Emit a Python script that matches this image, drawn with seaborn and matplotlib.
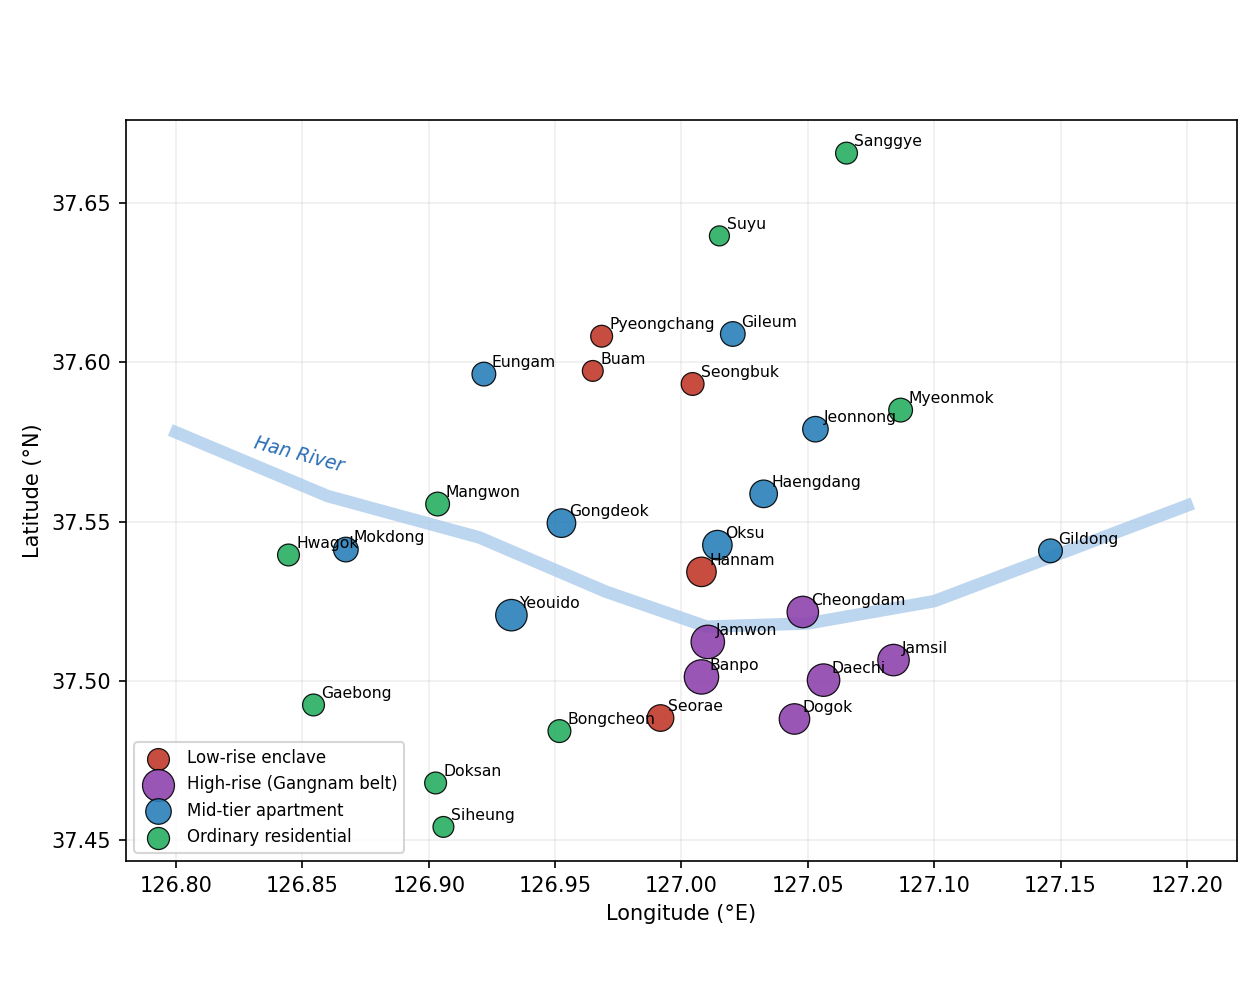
import matplotlib
matplotlib.use("Agg")
import matplotlib.pyplot as plt
import pandas as pd
import seaborn as sns

names = ["Sanggye", "Suyu", "Pyeongchang", "Gileum", "Eungam", "Buam", "Seongbuk", "Myeonmok",
         "Jeonnong", "Mangwon", "Haengdang", "Gongdeok", "Hwagok", "Mokdong", "Oksu", "Hannam",
         "Gildong", "Yeouido", "Cheongdam", "Jamwon", "Jamsil", "Banpo", "Daechi", "Dogok",
         "Seorae", "Gaebong", "Bongcheon", "Doksan", "Siheung"]
lon = [127.0653, 127.0150, 126.9684, 127.0203, 126.9218, 126.9649, 127.0044, 127.0867,
       127.0530, 126.9035, 127.0325, 126.9525, 126.8445, 126.8672, 127.0142, 127.0079,
       127.1460, 126.9327, 127.0480, 127.0104, 127.0839, 127.0079, 127.0562, 127.0447,
       126.9917, 126.8544, 126.9517, 126.9027, 126.9058]
lat = [37.6657, 37.6397, 37.6082, 37.6089, 37.5963, 37.5973, 37.5932, 37.5850,
       37.5790, 37.5555, 37.5587, 37.5495, 37.5395, 37.5412, 37.5426, 37.5342,
       37.5408, 37.5206, 37.5216, 37.5122, 37.5065, 37.5012, 37.5002, 37.4880,
       37.4883, 37.4924, 37.4842, 37.4679, 37.4541]
groups = ["Ordinary residential", "Ordinary residential", "Low-rise enclave", "Mid-tier apartment",
          "Mid-tier apartment", "Low-rise enclave", "Low-rise enclave", "Ordinary residential",
          "Mid-tier apartment", "Ordinary residential", "Mid-tier apartment", "Mid-tier apartment",
          "Ordinary residential", "Mid-tier apartment", "Mid-tier apartment", "Low-rise enclave",
          "Mid-tier apartment", "Mid-tier apartment", "High-rise (Gangnam belt)", "High-rise (Gangnam belt)",
          "High-rise (Gangnam belt)", "High-rise (Gangnam belt)", "High-rise (Gangnam belt)", "High-rise (Gangnam belt)",
          "Low-rise enclave", "Ordinary residential", "Ordinary residential", "Ordinary residential",
          "Ordinary residential"]
areas = [110, 92, 110, 140, 130, 100, 120, 130,
         150, 130, 175, 188, 110, 140, 200, 200,
         130, 228, 228, 258, 228, 272, 243, 214,
         163, 110, 120, 110, 100]

river_lon = [126.80, 126.86, 126.92, 126.97, 127.01, 127.05, 127.10, 127.15, 127.20]
river_lat = [37.578, 37.558, 37.545, 37.528, 37.517, 37.518, 37.525, 37.540, 37.555]

group_order = ["Low-rise enclave", "High-rise (Gangnam belt)", "Mid-tier apartment", "Ordinary residential"]
palette = {"Low-rise enclave": "#c0392b", "High-rise (Gangnam belt)": "#8e44ad",
           "Mid-tier apartment": "#2980b9", "Ordinary residential": "#27ae60"}
legend_areas = [110, 235, 150, 112]

df = pd.DataFrame({"name": names, "lon": lon, "lat": lat, "group": groups, "area": areas})

sns.set_theme(style="ticks", rc={"text.color": "black", "axes.labelcolor": "black",
                                 "xtick.color": "black", "ytick.color": "black"})
fig = plt.figure(figsize=(8.4, 6.6), dpi=150)
ax = fig.add_axes([126 / 1260, 1 - 861 / 990, 1111 / 1260, 741 / 990])

# River course sits under the neighbourhood markers
sns.lineplot(x=river_lon, y=river_lat, ax=ax, color="#a7c9ea", alpha=0.75, linewidth=6,
             sort=False, estimator=None, solid_capstyle="projecting", zorder=1)
ax.text(126.8488, 37.5709, "Han River", color="#2a6db5", fontsize=9, style="italic",
        rotation=-15, ha="center", va="center")

for group in group_order:
    sub = df[df["group"] == group]
    sns.scatterplot(data=sub, x="lon", y="lat", s=sub["area"].to_numpy(), color=palette[group],
                    edgecolor="black", linewidth=0.6, alpha=0.9, label=group, ax=ax, zorder=3)

for _, row in df.iterrows():
    ax.annotate(row["name"], (row["lon"], row["lat"]), xytext=(3.8, 3.4), textcoords="offset points",
                fontsize=7.5, color="black", zorder=4)

ax.set_xlim(126.7802, 127.2198)
ax.set_ylim(37.4434, 37.6761)
ax.set_xticks([126.80, 126.85, 126.90, 126.95, 127.00, 127.05, 127.10, 127.15, 127.20])
ax.set_xticklabels(["126.80", "126.85", "126.90", "126.95", "127.00", "127.05", "127.10", "127.15", "127.20"])
ax.set_yticks([37.45, 37.50, 37.55, 37.60, 37.65])
ax.set_yticklabels(["37.45", "37.50", "37.55", "37.60", "37.65"])
ax.tick_params(labelsize=10, length=3.5, width=0.8)
ax.grid(True, color="#b0b0b0", alpha=0.2, linewidth=0.8)
ax.set_axisbelow(True)
ax.set_xlabel("Longitude (°E)", fontsize=10)
ax.set_ylabel("Latitude (°N)", fontsize=10)
for spine in ax.spines.values():
    spine.set_visible(True)
    spine.set_color("black")
    spine.set_linewidth(0.8)

handles, labels = ax.get_legend_handles_labels()
legend = ax.legend(handles, labels, loc="lower left", fontsize=8, labelspacing=0.5,
                   handletextpad=0.75, frameon=True)
for handle, size in zip(legend.legend_handles, legend_areas):
    handle.set_sizes([size])

fig.savefig("out.png", dpi=150)
